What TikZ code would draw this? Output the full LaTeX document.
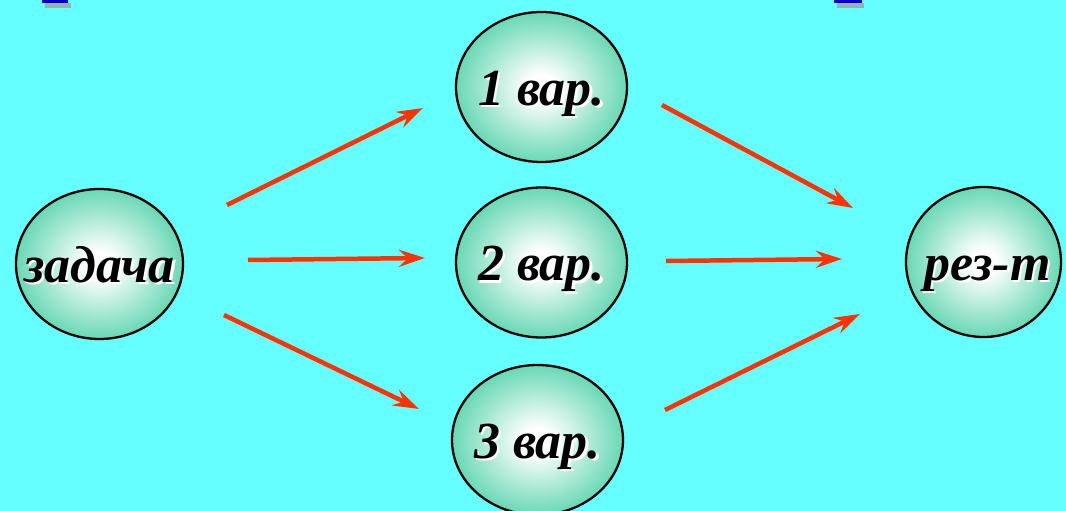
\documentclass[tikz,border=0pt]{standalone}
\usepackage{fontspec}
\setmainfont{Liberation Serif}
\usetikzlibrary{shapes.geometric,arrows.meta}

\definecolor{bgcyan}{RGB}{102,255,255}
\definecolor{varcol}{RGB}{40,200,148}
\definecolor{arrcol}{RGB}{255,51,0}
\definecolor{titleblue}{RGB}{0,0,204}

\pgfdeclareradialshading{varshade}{\pgfpoint{0bp}{0bp}}{%
  color(0bp)=(white); color(4bp)=(white); color(34bp)=(varcol); color(50bp)=(varcol)}

% white glow behind the black letters, kept out of the node's width
\newcommand{\glowtxt}[1]{%
  \makebox[0pt]{\makebox[0pt][l]{\hspace{2.5pt}\raisebox{-2.5pt}{\color{white}#1}}#1}}

\begin{document}
\begin{tikzpicture}[
    x=1pt, y=1pt,
    var/.style={ellipse, draw=black, line width=2.3pt, shading=varshade,
                minimum width=171pt, minimum height=150pt, inner sep=0pt,
                text height=37pt, text depth=0pt,
                font=\fontsize{52}{52}\selectfont\bfseries\itshape},
    arr/.style={arrcol, line width=4.5pt,
                -{Stealth[length=26pt, width=17pt, inset=9pt]}}
]

% ---------- background ----------
\useasboundingbox (0,0) rectangle (1066,511);
\fill[bgcyan] (0,0) rectangle (1066,511);

% ---------- cut-off title marks ----------
\fill[red!30!bgcyan] (45,503) rectangle (71,508);
\fill[titleblue] (42,508) rectangle (68,511);
\fill[red!30!bgcyan] (837,503) rectangle (864,508);
\fill[titleblue] (834,508) rectangle (862,511);

% ---------- ellipses ----------
\node[var, minimum width=167pt] (zad) at (99.5,247) {\glowtxt{задача}};
\node[var] (v1) at (541.5,424) {\glowtxt{1 вар.}};
\node[var] (v2) at (541.5,248.5) {\glowtxt{2 вар.}};
\node[var] (v3) at (537.5,71) {\glowtxt{3 вар.}};
\node[var, minimum width=155pt] (res) at (983.5,249) {\hspace{8pt}\glowtxt{рез-т}};

% ---------- arrows ----------
\draw[arr] ([shift={(127.5,59)}]zad.center) -- ([shift={(-118.5,-21)}]v1.center);
\draw[arr] ([shift={(148.5,4)}]zad.center) -- ([shift={(-116.5,4.5)}]v2.center);
\draw[arr] ([shift={(124.5,-51)}]zad.center) -- ([shift={(-118.5,31)}]v3.center);
\draw[arr] ([shift={(120.5,-18)}]v1.center) -- ([shift={(-130.5,54)}]res.center);
\draw[arr] ([shift={(124.5,1.5)}]v2.center) -- ([shift={(-141.5,3)}]res.center);
\draw[arr] ([shift={(127.5,30)}]v3.center) -- ([shift={(-123.5,-52)}]res.center);

\end{tikzpicture}
\end{document}
